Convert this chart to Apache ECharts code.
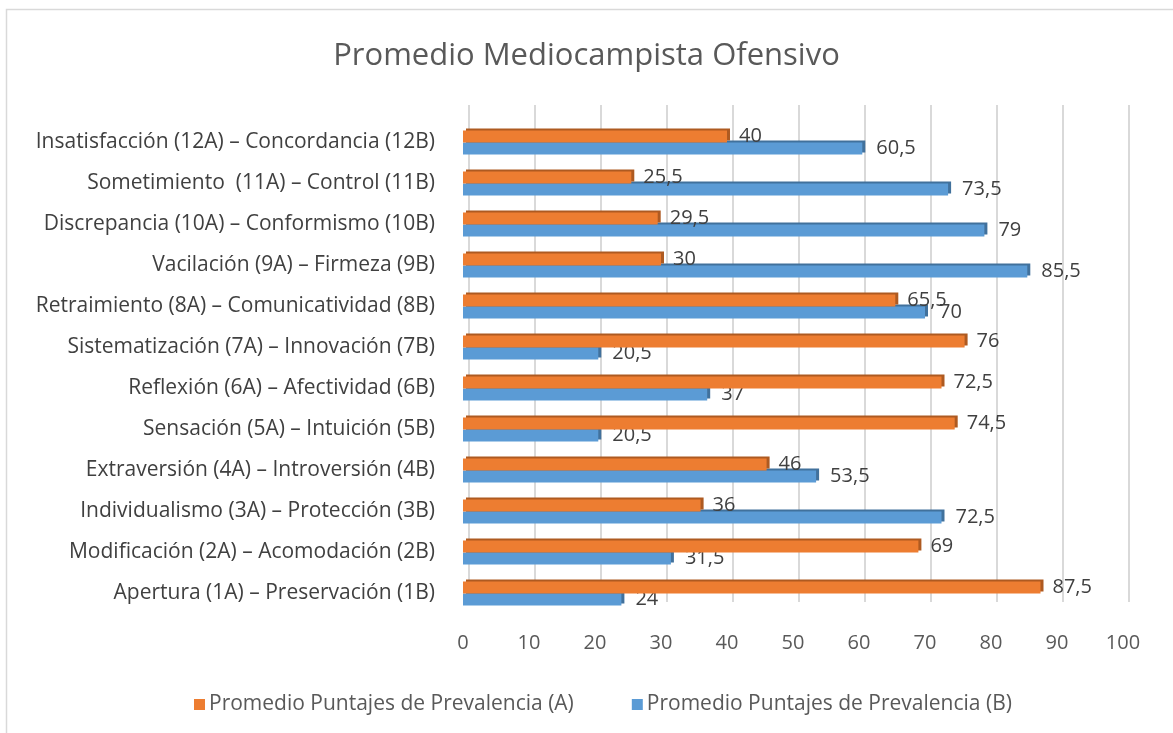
<!DOCTYPE html>
<html>
<head>
<meta charset="utf-8">
<script src="https://cdn.jsdelivr.net/npm/echarts@6/dist/echarts.min.js"></script>
<style>
	html, body { margin: 0; padding: 0; background: #fff; }
	#main { width: 1173px; height: 733px; }
</style>
</head>
<body>
<div id="main"></div>
<script>
	// categorias de abajo hacia arriba
	const categories = [
		'Apertura (1A) – Preservación (1B)',
		'Modificación (2A) – Acomodación (2B)',
		'Individualismo (3A) – Protección (3B)',
		'Extraversión (4A) – Introversión (4B)',
		'Sensación (5A) – Intuición (5B)',
		'Reflexión (6A) – Afectividad (6B)',
		'Sistematización (7A) – Innovación (7B)',
		'Retraimiento (8A) – Comunicatividad (8B)',
		'Vacilación (9A) – Firmeza (9B)',
		'Discrepancia (10A) – Conformismo (10B)',
		'Sometimiento  (11A) – Control (11B)',
		'Insatisfacción (12A) – Concordancia (12B)'
	]
	const serieA = [87.5, 69, 36, 46, 74.5, 72.5, 76, 65.5, 30, 29.5, 25.5, 40]
	const serieB = [24, 31.5, 72.5, 53.5, 20.5, 37, 20.5, 70, 85.5, 79, 73.5, 60.5]
	const nombreA = 'Promedio Puntajes de Prevalencia (A)'
	const nombreB = 'Promedio Puntajes de Prevalencia (B)'
	const xMin = 0, xMax = 100, xStep = 10

	const fuente = 'Open Sans'
	const coma = p => String(p.value).replace('.', ',')

	let myChart = echarts.init(document.getElementById('main'))
	let option = {
		backgroundColor: '#fff',
		textStyle: { fontFamily: fuente },
		title: {
			text: 'Promedio Mediocampista Ofensivo',
			left: 'center',
			top: 36,
			textStyle: { fontFamily: fuente, fontSize: 31, fontWeight: 'normal', color: '#595959' }
		},
		legend: {
			left: 189,
			top: 689,
			icon: 'rect',
			itemWidth: 11,
			itemHeight: 11,
			itemGap: 58,
			textStyle: { fontFamily: fuente, fontSize: 21, color: '#595959', padding: [0, 0, 0, -1] },
			data: [nombreA, nombreB]
		},
		graphic: [{
			type: 'rect',
			shape: { x: 6.5, y: 9.5, width: 1180, height: 740 },
			style: { fill: 'none', stroke: '#d9d9d9', lineWidth: 1.5 },
			silent: true,
			z: -1
		}],
		grid: [
			// solo las lineas de division (desplazadas por el efecto 3D)
			{ left: 469, right: 44, top: 105, bottom: 131 },
			// barras
			{ left: 463, right: 50, top: 122, bottom: 119 }
		],
		xAxis: [{
			gridIndex: 0,
			type: 'value',
			min: xMin, max: xMax, interval: xStep,
			axisLine: { show: false },
			axisTick: { show: false },
			axisLabel: { show: false },
			splitLine: { lineStyle: { color: '#d9d9d9', width: 2 } }
		}, {
			gridIndex: 1,
			type: 'value',
			min: xMin, max: xMax, interval: xStep,
			axisLine: { show: false },
			axisTick: { show: false },
			splitLine: { show: false },
			axisLabel: { fontFamily: fuente, fontSize: 20, color: '#595959', margin: 19 }
		}],
		yAxis: [{
			gridIndex: 0,
			type: 'category',
			data: categories,
			show: false
		}, {
			gridIndex: 1,
			type: 'category',
			data: categories,
			axisLine: { show: false },
			axisTick: { show: false },
			axisLabel: { fontFamily: fuente, fontSize: 21, color: '#404040', margin: 28 }
		}],
		series: [{
			name: nombreA,
			type: 'bar',
			xAxisIndex: 1,
			yAxisIndex: 1,
			data: serieA,
			barWidth: 12,
			barGap: '0%',
			z: 3,
			itemStyle: {
				color: '#ed7d31',
				shadowColor: '#ae5a21',
				shadowOffsetX: 3,
				shadowOffsetY: -2,
				shadowBlur: 0
			},
			label: {
				show: true,
				position: 'right',
				distance: 12,
				fontFamily: fuente,
				fontSize: 20,
				color: '#404040',
				formatter: coma
			}
		}, {
			name: nombreB,
			type: 'bar',
			xAxisIndex: 1,
			yAxisIndex: 1,
			data: serieB,
			barWidth: 12,
			barGap: '0%',
			z: 2,
			itemStyle: {
				color: '#5b9bd5',
				shadowColor: '#41719c',
				shadowOffsetX: 3,
				shadowOffsetY: -2,
				shadowBlur: 0
			},
			label: {
				show: true,
				position: 'right',
				distance: 14,
				fontFamily: fuente,
				fontSize: 20,
				color: '#404040',
				formatter: coma
			}
		}]
	}
	myChart.setOption(option)
</script>
</body>
</html>
